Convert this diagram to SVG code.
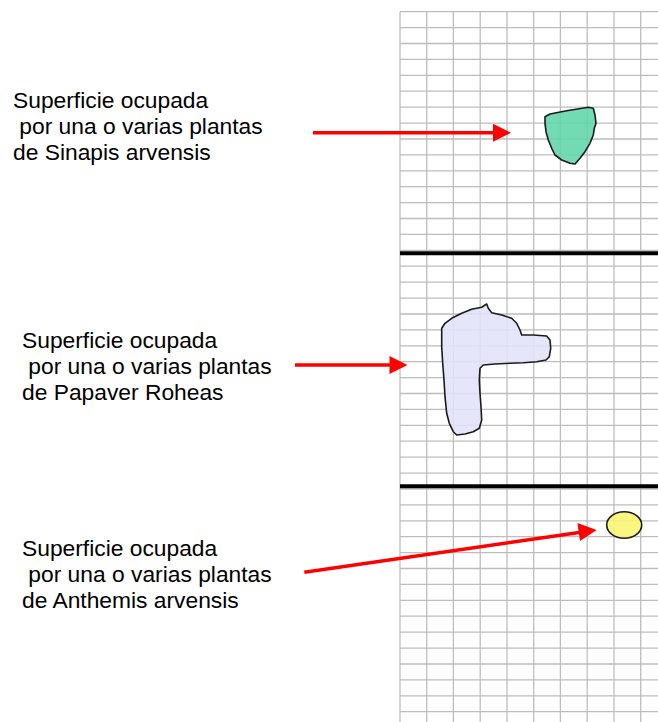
<svg xmlns="http://www.w3.org/2000/svg" width="658" height="722" viewBox="0 0 658 722">
  <style>
    .grid line { stroke: #bdbdbd; stroke-width: 1.3; }
    .band { stroke: #000; stroke-width: 4; }
    .label { font-family: "Liberation Sans", Arial, sans-serif; font-size: 22.8px; fill: #000; }
    .arrow { stroke: #ff0000; stroke-width: 3.5; fill: none; }
    .head { fill: #ff0000; }
    .patch { stroke: #1a1a1a; stroke-width: 1.6; stroke-linejoin: round; fill-opacity: 0.88; }
  </style>

  <rect width="658" height="722" fill="#ffffff"/>

  <!-- Sampling grid: 10 columns x 45 rows -->
  <g id="grid" class="grid">
    <line x1="400" y1="11.7" x2="400" y2="722"/>
    <line x1="426.7" y1="11.7" x2="426.7" y2="722"/>
    <line x1="453.4" y1="11.7" x2="453.4" y2="722"/>
    <line x1="480.2" y1="11.7" x2="480.2" y2="722"/>
    <line x1="507" y1="11.7" x2="507" y2="722"/>
    <line x1="533.7" y1="11.7" x2="533.7" y2="722"/>
    <line x1="560.4" y1="11.7" x2="560.4" y2="722"/>
    <line x1="587.2" y1="11.7" x2="587.2" y2="722"/>
    <line x1="614" y1="11.7" x2="614" y2="722"/>
    <line x1="640.7" y1="11.7" x2="640.7" y2="722"/>
    <line x1="400" y1="11.7" x2="658" y2="11.7"/>
    <line x1="400" y1="27.6" x2="658" y2="27.6"/>
    <line x1="400" y1="43.5" x2="658" y2="43.5"/>
    <line x1="400" y1="59.4" x2="658" y2="59.4"/>
    <line x1="400" y1="75.3" x2="658" y2="75.3"/>
    <line x1="400" y1="91.2" x2="658" y2="91.2"/>
    <line x1="400" y1="107.2" x2="658" y2="107.2"/>
    <line x1="400" y1="123.1" x2="658" y2="123.1"/>
    <line x1="400" y1="139" x2="658" y2="139"/>
    <line x1="400" y1="154.9" x2="658" y2="154.9"/>
    <line x1="400" y1="170.8" x2="658" y2="170.8"/>
    <line x1="400" y1="186.7" x2="658" y2="186.7"/>
    <line x1="400" y1="202.6" x2="658" y2="202.6"/>
    <line x1="400" y1="218.5" x2="658" y2="218.5"/>
    <line x1="400" y1="234.4" x2="658" y2="234.4"/>
    <line x1="400" y1="250.3" x2="658" y2="250.3"/>
    <line x1="400" y1="266.2" x2="658" y2="266.2"/>
    <line x1="400" y1="282.2" x2="658" y2="282.2"/>
    <line x1="400" y1="298.1" x2="658" y2="298.1"/>
    <line x1="400" y1="314" x2="658" y2="314"/>
    <line x1="400" y1="329.9" x2="658" y2="329.9"/>
    <line x1="400" y1="345.8" x2="658" y2="345.8"/>
    <line x1="400" y1="361.7" x2="658" y2="361.7"/>
    <line x1="400" y1="377.6" x2="658" y2="377.6"/>
    <line x1="400" y1="393.5" x2="658" y2="393.5"/>
    <line x1="400" y1="409.4" x2="658" y2="409.4"/>
    <line x1="400" y1="425.3" x2="658" y2="425.3"/>
    <line x1="400" y1="441.2" x2="658" y2="441.2"/>
    <line x1="400" y1="457.2" x2="658" y2="457.2"/>
    <line x1="400" y1="473.1" x2="658" y2="473.1"/>
    <line x1="400" y1="489" x2="658" y2="489"/>
    <line x1="400" y1="504.9" x2="658" y2="504.9"/>
    <line x1="400" y1="520.8" x2="658" y2="520.8"/>
    <line x1="400" y1="536.7" x2="658" y2="536.7"/>
    <line x1="400" y1="552.6" x2="658" y2="552.6"/>
    <line x1="400" y1="568.5" x2="658" y2="568.5"/>
    <line x1="400" y1="584.4" x2="658" y2="584.4"/>
    <line x1="400" y1="600.3" x2="658" y2="600.3"/>
    <line x1="400" y1="616.2" x2="658" y2="616.2"/>
    <line x1="400" y1="632.2" x2="658" y2="632.2"/>
    <line x1="400" y1="648.1" x2="658" y2="648.1"/>
    <line x1="400" y1="664" x2="658" y2="664"/>
    <line x1="400" y1="679.9" x2="658" y2="679.9"/>
    <line x1="400" y1="695.8" x2="658" y2="695.8"/>
    <line x1="400" y1="711.7" x2="658" y2="711.7"/>
  </g>

  <!-- Band separators -->
  <g id="separators">
    <line class="band" x1="400" y1="253.3" x2="658" y2="253.3"/>
    <line class="band" x1="400" y1="486.3" x2="658" y2="486.3"/>
  </g>

  <!-- Plant patches -->
  <g id="patch-sinapis">
    <polygon class="patch" fill="#5fd6aa" points="545,116.7 550,114 566.7,110.7 588.3,107.3 593.3,108.3 595,115 596,123.3 594.3,128.3 593.3,135 590,143.3 585,151.7 580,158.3 575,164 570,163.3 561.7,160 555,155 551.7,148.3 548.3,140 546,131.7 545,123.3"/>
  </g>
  <g id="patch-papaver">
    <polygon class="patch" fill="#e2e2f9" points="441.7,328.3 445,323.3 451.7,318.3 461.7,313.3 471.7,309.3 481.7,307.3 485,305 486.7,304 488.3,308.3 491.7,312.7 501.7,315 511.7,318.3 516.7,323.3 520,330 521.7,335 533.3,335 546.7,336 550,340 550.7,348.3 549.3,356.7 546,360 536.7,361.7 523.3,362.7 510,363.3 495,364 483.3,365 480,368.3 479.3,380 480,393.3 481,406.7 481.7,420 479.3,428.3 473.3,431.7 465,434 456.7,435 453.3,431.7 449.3,423.3 446.7,413.3 445,396.7 444,380 442.7,363.3 441.7,346.7 441.7,333.3"/>
  </g>
  <g id="patch-anthemis">
    <ellipse class="patch" fill="#fbf56e" cx="624.2" cy="525" rx="17.5" ry="13.3"/>
  </g>

  <!-- Labels -->
  <g id="label-sinapis" class="label">
    <text x="13" y="108">Superficie ocupada</text>
    <text x="13" y="134" xml:space="preserve"> por una o varias plantas</text>
    <text x="13" y="160">de Sinapis arvensis</text>
  </g>
  <g id="label-papaver" class="label">
    <text x="22" y="348">Superficie ocupada</text>
    <text x="22" y="374" xml:space="preserve"> por una o varias plantas</text>
    <text x="22" y="400">de Papaver Roheas</text>
  </g>
  <g id="label-anthemis" class="label">
    <text x="22" y="556">Superficie ocupada</text>
    <text x="22" y="582" xml:space="preserve"> por una o varias plantas</text>
    <text x="22" y="608">de Anthemis arvensis</text>
  </g>

  <!-- Connectors -->
  <g id="connectors">
    <line class="arrow" x1="313" y1="132.7" x2="495" y2="132.7"/>
    <polygon class="head" points="511,132.7 493,123.7 493,141.7"/>
    <line class="arrow" x1="295" y1="365" x2="392" y2="365"/>
    <polygon class="head" points="407.5,365 389.5,356 389.5,374"/>
    <line class="arrow" x1="304.3" y1="572.3" x2="581" y2="532.3"/>
    <polygon class="head" points="596.7,530 577.4,523.1 580,540.9"/>
  </g>
</svg>
